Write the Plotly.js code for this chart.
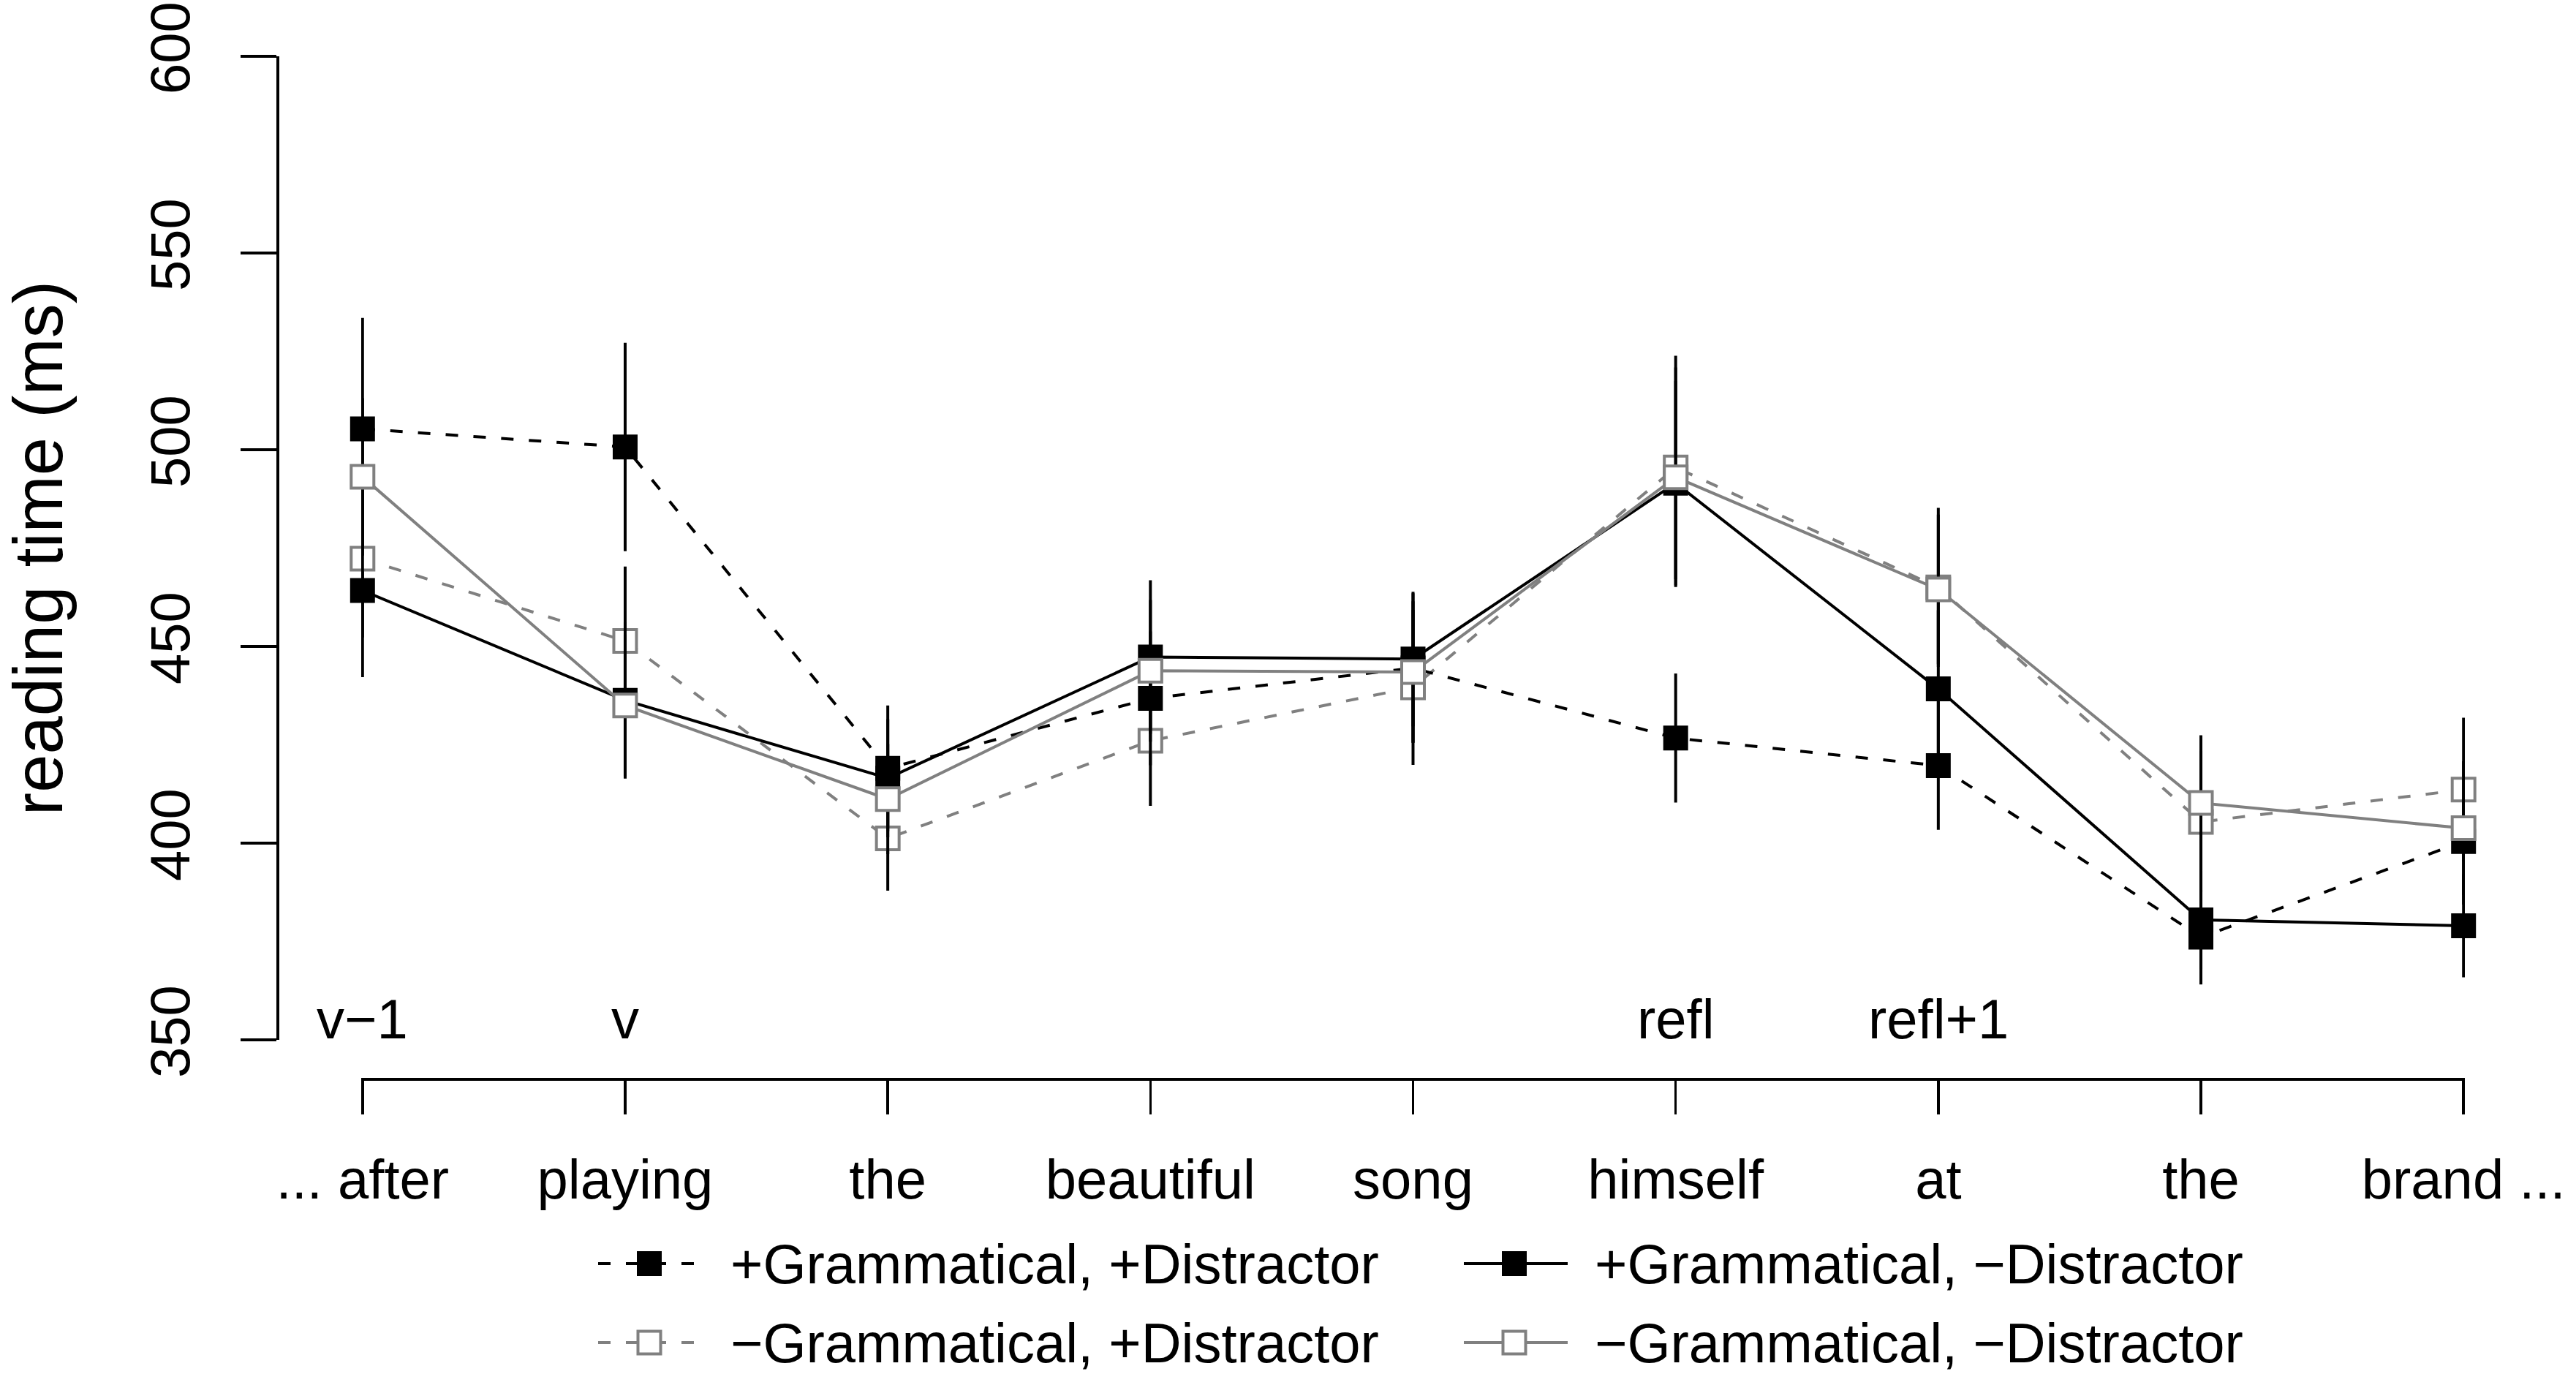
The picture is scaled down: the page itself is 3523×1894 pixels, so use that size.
<!DOCTYPE html>
<html>
<head>
<meta charset="utf-8">
<script src="https://cdn.plot.ly/plotly-3.0.1.min.js"></script>
<style>html,body{margin:0;padding:0;background:#fff;}#chart{width:3523px;height:1894px;}</style>
</head>
<body>
<div id="chart"></div>
<script>
// ---- data ----
const positions = [1, 2, 3, 4, 5, 6, 7, 8, 9];
const words = ['... after', 'playing', 'the', 'beautiful', 'song', 'himself', 'at', 'the', 'brand ...'];
const regionLabels = ['v\u22121', 'v', '', '', '', 'refl', 'refl+1', '', ''];
const yTicks = [350, 400, 450, 500, 550, 600];

const seriesNames = [
  '+Grammatical, +Distractor',
  '+Grammatical, \u2212Distractor',
  '\u2212Grammatical, +Distractor',
  '\u2212Grammatical, \u2212Distractor'
];
const gramDistr     = [505.3, 500.7, 419.0, 436.8, 444.5, 426.7, 419.7, 376.1, 400.4];
const gramDistrSE   = [28.2, 26.5, 16.0, 17.0, 19.0, 16.4, 16.3, 12.0, 16.0];
const gramNoDistr   = [464.2, 436.3, 416.5, 447.3, 446.8, 491.5, 439.2, 380.5, 379.0];
const gramNoDistrSE = [22.0, 19.9, 15.0, 19.5, 17.1, 26.0, 20.0, 12.5, 13.1];
const ungramDistr   = [472.3, 451.4, 401.2, 426.0, 439.6, 495.5, 465.0, 405.4, 413.6];
const ungramDistrSE = [20.0, 18.9, 13.3, 16.5, 19.7, 28.4, 20.2, 18.0, 18.3];
const ungramNoDistr = [493.1, 435.0, 411.2, 443.8, 443.5, 493.0, 464.5, 410.2, 403.8];
const ungramNoDistrSE = [20.0, 18.0, 14.0, 18.0, 18.0, 27.9, 19.0, 17.2, 17.0];

// ---- styles ----
const FONT = 'Liberation Sans, Arial, Helvetica, sans-serif';
const GRAY = '#808080';
const LW = 4;
const DASH = '17px,21px';
const styles = [
  {color: '#000', dash: DASH, filled: true},
  {color: '#000', dash: 'solid', filled: true},
  {color: GRAY, dash: DASH, filled: false},
  {color: GRAY, dash: 'solid', filled: false}
];
const values = [gramDistr, gramNoDistr, ungramDistr, ungramNoDistr];
const errors = [gramDistrSE, gramNoDistrSE, ungramDistrSE, ungramNoDistrSE];

function makeTrace(i) {
  const s = styles[i];
  return {
    type: 'scatter', mode: 'lines+markers', name: seriesNames[i], showlegend: false,
    x: positions, y: values[i], cliponaxis: false,
    line: {color: s.color, width: LW, dash: s.dash},
    marker: s.filled
      ? {symbol: 'square', size: 34, color: s.color, line: {width: 0}}
      : {symbol: 'square', size: 31, color: '#fff', line: {width: LW, color: s.color}},
    error_y: {type: 'data', array: errors[i], symmetric: true, visible: true,
              color: '#000', thickness: LW, width: 0}
  };
}
// drawing order: -Gram+Distr, +Gram+Distr, +Gram-Distr, -Gram-Distr
const traces = [makeTrace(2), makeTrace(0), makeTrace(1), makeTrace(3)];

// ---- layout geometry (pixels) ----
const W = 3523, H = 1894;
const mL = 380, mR = 152, mT = 77, mB = 418;
const plotW = W - mL - mR, plotH = H - mT - mB;
const px = v => (v - mL) / plotW;
const py = v => (H - mB - v) / plotH;

// ---- region labels ----
const annotations = [];
positions.forEach((p, i) => {
  if (regionLabels[i]) {
    annotations.push({x: p, y: 350, xref: 'x', yref: 'y', text: regionLabels[i], showarrow: false,
      xanchor: 'center', yanchor: 'bottom', yshift: -16, font: {family: FONT, size: 76, color: '#000'}});
  }
});

// ---- legend (drawn by hand, R style) ----
const legendCols = [{x0: 818, x1: 952, mx: 888, tx: 997}, {x0: 2002, x1: 2144, mx: 2071, tx: 2179}];
const legendRows = [1728, 1836];
const legendOrder = [[0, 0, 0], [1, 1, 0], [2, 0, 1], [3, 1, 1]]; // series, col, row
const shapes = [];
legendOrder.forEach(([si, ci, ri]) => {
  const c = legendCols[ci], yy = py(legendRows[ri]), s = styles[si];
  shapes.push({type: 'line', xref: 'paper', yref: 'paper', x0: px(c.x0), x1: px(c.x1), y0: yy, y1: yy,
    line: {color: s.color, width: LW, dash: s.dash}});
  const half = s.filled ? 17 : 15.5;
  shapes.push({type: 'rect', xref: 'paper', yref: 'paper', xsizemode: 'pixel', ysizemode: 'pixel',
    xanchor: px(c.mx), yanchor: yy, x0: -half, x1: half, y0: -half, y1: half,
    fillcolor: s.filled ? s.color : '#fff',
    line: {color: s.color, width: s.filled ? 0 : LW}});
  annotations.push({xref: 'paper', yref: 'paper', x: px(c.tx), y: yy, xanchor: 'left', yanchor: 'middle',
    text: seriesNames[si], showarrow: false, font: {family: FONT, size: 76, color: '#000'}});
});

const layout = {
  width: W, height: H,
  margin: {l: mL, r: mR, t: mT, b: mB, pad: 0},
  paper_bgcolor: '#fff', plot_bgcolor: '#fff',
  showlegend: false,
  font: {family: FONT, color: '#000'},
  xaxis: {
    domain: [px(494), 1], range: [0.995, 9.005], anchor: 'free', position: 0,
    tickmode: 'array', tickvals: positions, ticktext: words,
    showline: true, linecolor: '#000', linewidth: LW,
    ticks: 'outside', ticklen: 46, tickwidth: 3.5, tickcolor: '#000',
    showgrid: false, zeroline: false, ticklabelstandoff: 24,
    tickfont: {family: FONT, size: 76, color: '#000'}
  },
  yaxis: {
    domain: [(H - mB - 1422) / plotH, 1], range: [350, 600], anchor: 'free', position: 0,
    tickmode: 'array', tickvals: yTicks, ticktext: yTicks.map(String), tickangle: -90,
    showline: true, linecolor: '#000', linewidth: LW,
    ticks: 'outside', ticklen: 49, tickwidth: 3.5, tickcolor: '#000',
    showgrid: false, zeroline: false, ticklabelstandoff: 40,
    tickfont: {family: FONT, size: 76, color: '#000'},
    title: {text: 'reading time (ms)', font: {family: FONT, size: 94, color: '#000'}, standoff: 100}
  },
  shapes: shapes,
  annotations: annotations
};

Plotly.newPlot('chart', traces, layout, {displayModeBar: false, staticPlot: true});
</script>
</body>
</html>
